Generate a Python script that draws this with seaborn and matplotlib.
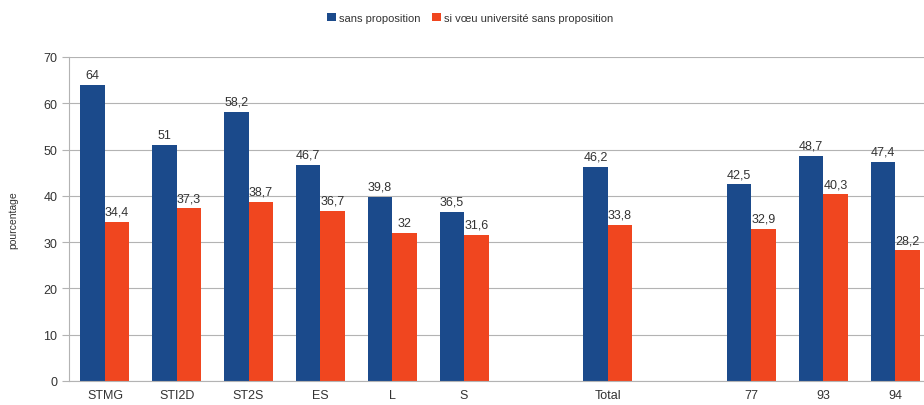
import numpy as np
import pandas as pd
import matplotlib
matplotlib.use('Agg')
import matplotlib.pyplot as plt
import seaborn as sns

# données (NaN = colonne vide)
categories = ['STMG', 'STI2D', 'ST2S', 'ES', 'L', 'S', '', 'Total', ' ', '77', '93', '94']
sans_proposition = [64, 51, 58.2, 46.7, 39.8, 36.5, np.nan, 46.2, np.nan, 42.5, 48.7, 47.4]
si_voeu_univ = [34.4, 37.3, 38.7, 36.7, 32, 31.6, np.nan, 33.8, np.nan, 32.9, 40.3, 28.2]
series = ['sans proposition', 'si vœu université sans proposition']
couleurs = ['#1b4a8b', '#f0461f']

df = pd.DataFrame({
    'categorie': categories * 2,
    'valeur': sans_proposition + si_voeu_univ,
    'serie': [series[0]] * len(categories) + [series[1]] * len(categories),
})

sns.set_style('white')
plt.rcParams['font.family'] = ['Liberation Sans', 'DejaVu Sans']

fig = plt.figure(figsize=(9.24, 4.06), dpi=100)
ax = fig.add_axes([69 / 924, 1 - 382 / 406, 862 / 924, 324 / 406])

sns.barplot(data=df, x='categorie', y='valeur', hue='serie', order=categories,
            hue_order=series, palette=couleurs, width=0.68, saturation=1,
            errorbar=None, linewidth=0, ax=ax)

def fmt(v):
    return ('%g' % v).replace('.', ',')

for cont in ax.containers:
    labels = ['' if np.isnan(b.get_height()) else fmt(b.get_height()) for b in cont]
    ax.bar_label(cont, labels=labels, padding=3, fontsize=9, color='#333333')

ax.set_ylim(0, 70)
ax.set_yticks(range(0, 71, 10))
ax.set_xlim(-0.5, len(categories) - 0.5)
ax.yaxis.grid(True, color='#b3b3b3', linewidth=0.8)
ax.set_axisbelow(True)
for s in ['top', 'right']:
    ax.spines[s].set_visible(False)
for s in ['left', 'bottom']:
    ax.spines[s].set_color('#b3b3b3')
    ax.spines[s].set_linewidth(0.8)

ax.set_xticks(np.arange(-0.5, len(categories), 1), minor=True)
ax.tick_params(axis='x', which='major', length=0, labelsize=9, labelcolor='#333333', pad=6)
ax.tick_params(axis='x', which='minor', length=5, color='#b3b3b3', width=0.8, direction='out')
ax.tick_params(axis='y', length=5, color='#b3b3b3', width=0.8, direction='out',
               labelsize=9, labelcolor='#333333', left=True)

ax.set_xlabel('')
ax.set_ylabel('pourcentage', fontsize=7.5, color='#333333', labelpad=18)

handles, labs = ax.get_legend_handles_labels()
ax.legend_.remove()
fig.legend(handles, labs, loc='center', bbox_to_anchor=(470 / 924, 1 - 19 / 406), ncol=2,
           frameon=False, fontsize=8, handlelength=0.8, handleheight=0.8,
           handletextpad=0.3, columnspacing=1.0, labelcolor='#333333')

fig.savefig('out.png', dpi=100)
